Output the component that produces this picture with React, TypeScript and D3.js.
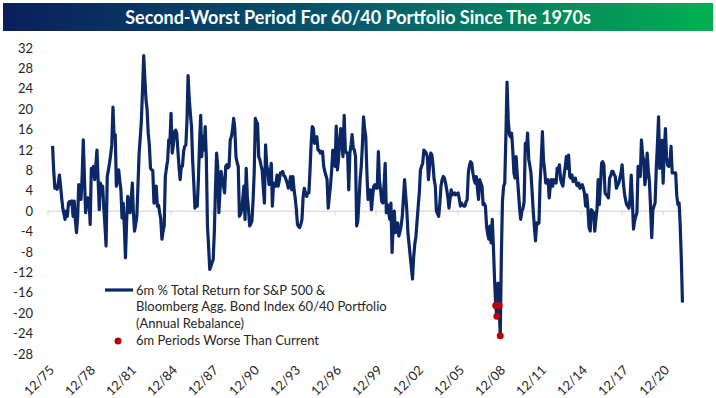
import React from 'react';
import * as d3 from 'd3';

const WIDTH = 716;
const HEIGHT = 398;

// 6m % total return, 60/40 portfolio, monthly, starting Apr 1976
const vals1970s = [
  12.8, 8, 4.5, 4.8, 4.3, 5.5, 7.1, 4.9, 2.5,
  0.5, -0.6, -1.6, 0.0, -1.0, 1.6, 1.9, 1.4, 2.0, -1.0, 2.0, -1.8,
  -4.2, -1.0, 5.2, 3.5, 2.3, 7.0, 14, 6.5, -0.3, 1.5, 2.6, 2.3,
  -2.6, 8.4, 7.8, 8.8, 6.2, 9.0, 12, 6.2, 0.3, 5.5, 4.0, 4.9,
];
const vals1980s = [
  0.5, -3, -6.8, 6.8, 8.0, 9.4, 11, 13, 20.4, 14.5, 15, 4.9,
  6.5, 8.1, 6.0, 4.2, -1.3, 1.6, -3.0, -9.1, -2.0, 2.9, 1.0, -0.3,
  2.5, 5.5, -0.3, -3.9, -2.5, -1.0, 5.0, 11.4, 14.5, 17.9, 24, 30.5,
  26, 21.8, 20, 15.3, 13, 8.4, 8.1, 8.0, 1.6, 2.5, 4.9, 1.0,
  1.2, -0.3, -1.5, -5.5, -4.0, -2.9, 6.8, 8.5, 10, 14, 13.5, 19.2,
  11.4, 13, 15.5, 15.9, 15.3, 12, 8.8, 6.2, 8.8, 8.8, 11.7, 12.7,
  13, 18, 26.6, 22, 19.2, 16.6, 10, 5.5, 0.6, 1.3, 1.0, 6,
  13.3, 18.8, 10.7, 14.6, 12, 16.6, 10.7, -2.9, -7, -11.4, -10.8, -10.1,
  -9.5, -4, 4, 11.4, 8.8, -0.3, 4, 7.8, 6.2, 5, 3.6, 8.8,
  9.1, 8.5, 8.8, 14, 14.6, 16, 18.2, 16.2, 10.7, 9.5, 8.8, -1,
];
const vals1990s = [
  -0.6, 0.3, 2.5, 4.9, -1.6, 8.4, 3, 0.3, -2.9, -2.5, -1.9, 2,
  7.5, 18.2, 17.5, 17.2, 10.7, 10.1, 9, 8.1, 4.5, 1.6, 13, 9,
  7.8, 5.2, 7, 9.4, 1.0, 5.5, 5.0, 4.9, 7.1, 4.9, 6.0, 7.5,
  7.5, 7.8, 7.0, 6.8, 6.2, 5.5, 4.5, 5.5, 6.8, 4.2, 6.8, 4.2,
  2.5, 0.3, -2.6, -3.0, -3.2, -2.5, -1.6, 2.9, 4.5, 3.6, 2.9, 3.6,
  3.6, 8.1, 13, 16.6, 16.2, 13.3, 14, 14.6, 12, 12, 11.4, 11.7,
  11.7, 8.8, 7.8, 7.0, 6.2, 0.6, 2.9, 5, 8.1, 12, 10, 8.8,
  16.7, 8.1, 10, 13.9, 16.2, 13, 10.7, 18.8, 12, 11.4, 11.4, 4.2,
  11.4, 13, 15, 12.3, 12, 10.7, -2.9, -1.9, 2, 6.2, 8.8, 13,
  18.5, 16, 14.6, 7.5, 2.3, 3.5, 4.2, 0.3, 3, 4.9, 5.2, 4.5,
];
const vals2000s = [
  4.5, 11.7, 6.0, 4.2, 1.9, 1.6, 5, 9.4, -0.3, 1.3, 0, -1.6,
  1.6, -8.1, -3, 0, -4.2, -3, -2.3, -4.9, -4, -2.9, -1, 2.5,
  6.2, 3, 0.3, -4.2, -6.5, -8.8, -11, -13.3, -9, -6.5, -4.9, -1.9,
  1.0, 3.9, 8.1, 8.8, 9.4, 12, 11.7, 11.4, 10.7, 6.2, 9, 11.4,
  11, 9, 6.2, 5, 0, -0.5, -1, 1.6, 5, 6.2, 6.8, 6.5,
  5.5, 4.2, 2.9, 0.6, 2.5, 4.2, 3.2, 3.4, 3.6, 3.2, 3.4, 3.6,
  2.5, 1.0, 1.6, 1.2, 1.0, 1.0, 1.8, 2.3, 7.5, 9.0, 9.7, 9.4,
  7.5, 6.2, 5.5, 6.8, 4.5, 2.3, 6.2, 5.5, 4.9, 1.3, 1.5, 1.0,
  -2.9, -4.5, -5.5, -2.9, -6.2, -1.6, -6.8, -13.3, -18.5, -20.6, -14.1, -18.5,
  -24.4, -8, 2.0, 4.9, 5.5, 15, 25.3, 18, 15, 14.6, 15.3, 12,
];
const vals2010s = [
  7.5, 6.5, 10.7, 7, 3.9, 0.6, -1.6, 0, 0.6, 1.9, 13.3, 12,
  15.3, 10.1, 9, 7.5, 4, 0, -3, -5.8, -2.3, -2.5, -2.3, 5.5,
  10, 15.6, 10, 8.1, 5.5, 5.8, 6.2, 2.6, 5, 6.2, 4.9, 6.2,
  6, 5.5, 8.4, 8, 9.1, 6.2, 5.5, 4.9, 7.1, 8.5, 10.7, 8.4,
  11, 6.8, 6.5, 7.1, 5.8, 6.0, 6.5, 5.2, 5.0, 5.5, 4.5, 4.8,
  5.2, 4.5, 3.5, 1.0, 3.2, 0.6, -3.2, -3.9, 0.3, 0, -0.3, -3.9,
  -1.5, 0.6, 6.2, 1.3, 5, 9.4, 9.7, 9.1, 3.6, 3.2, 3.0, 2.6,
  6.5, 7.0, 7.8, 7.8, 7.2, 6.8, 4.5, 5.0, 5.5, 6.5, 7.5, 9.1,
  5.8, 3.5, 2.3, 1.3, 1.0, 0.6, 2.3, 7.1, 2, -3.5, -1.9, -1.0,
  -0.3, 8.8, 7.5, 6.8, 14, 11, 10, 5.2, 7, 11.4, 8, 5.8,
];
const vals2020s = [
  0.6, -5.2, 0.2, 1.0, 1.6, 8.4, 13, 18.5, 8.4, 11, 13.9, 5.5,
  12, 16.2, 10.7, 9, 8.8, 9.4, 12.7, 7.5, 7.5, 7.5, 7.5, 3,
  1.3, 1.6, -2.6, -9.3, -17.9,
];

const series = [...vals1970s, ...vals1980s, ...vals1990s, ...vals2000s, ...vals2010s, ...vals2020s];
const points = series.map((v, i) => ({ date: new Date(1976, 3 + i, 1), value: v }));
const current = series[series.length - 1];
// periods worse than the latest reading
const worse = points.slice(0, -1).filter(p => p.value < current);

const yTicks = [-28, -24, -20, -16, -12, -8, -4, 0, 4, 8, 12, 16, 20, 24, 28, 32];
const xTickYears = [1975, 1978, 1981, 1984, 1987, 1990, 1993, 1996, 1999, 2002, 2005, 2008, 2011, 2014, 2017, 2020];

const title = 'Second-Worst Period For 60/40 Portfolio Since The 1970s';
const legendLine = ['6m % Total Return for S&P 500 &', 'Bloomberg Agg. Bond Index 60/40 Portfolio', '(Annual Rebalance)'];
const legendDots = '6m Periods Worse Than Current';

const FONT = 'Lato, "Open Sans", sans-serif';
const NAVY = '#0c2766';
const RED = '#c00000';

export default function App() {
  React.useEffect(() => {
    document.body.style.margin = '0';
  }, []);

  const x = d3.scaleTime()
    .domain([new Date(1975, 11, 1), new Date(2022, 5, 1)])
    .range([48, 683.6]);
  const y = d3.scaleLinear().domain([-28, 32]).range([354, 48]);

  const line = d3.line<{ date: Date; value: number }>()
    .x(d => x(d.date))
    .y(d => y(d.value));

  return (
    <svg width={WIDTH} height={HEIGHT} style={{ position: 'absolute', left: 0, top: 0, background: '#fff' }}>
      <defs>
        <linearGradient id="titleGrad" x1="0" x2="1" y1="0" y2="0">
          <stop offset="0%" stopColor="#0a1f5c" />
          <stop offset="50%" stopColor="#075a6b" />
          <stop offset="100%" stopColor="#00b050" />
        </linearGradient>
      </defs>
      <rect x={3} y={3} width={710} height={28} fill="url(#titleGrad)" />
      <text x={358} y={23.5} textAnchor="middle" fill="#fff" fontFamily={FONT} fontWeight="bold" fontSize={18}>
        {title}
      </text>

      {/* y labels */}
      {yTicks.map(t => (
        <text key={t} x={33} y={y(t) + 4.5} textAnchor="end" fontFamily={FONT} fontSize={13} fill="#262626">
          {t}
        </text>
      ))}

      {/* zero axis */}
      <line x1={48} x2={683} y1={y(0)} y2={y(0)} stroke="#d0d0d0" strokeWidth={1} />
      {xTickYears.map(yr => {
        const tx = x(new Date(yr, 11, 1));
        return <line key={yr} x1={tx} x2={tx} y1={y(0)} y2={y(0) + 4} stroke="#d0d0d0" strokeWidth={1} />;
      })}

      {/* x labels */}
      {xTickYears.map(yr => {
        const tx = x(new Date(yr, 11, 1));
        return (
          <text key={yr} transform={`translate(${tx + 7},${371}) rotate(-45)`} textAnchor="end"
            fontFamily={FONT} fontSize={13} fill="#262626">
            {`12/${String(yr).slice(2)}`}
          </text>
        );
      })}

      <path d={line(points) ?? ''} fill="none" stroke={NAVY} strokeWidth={3.2} strokeLinejoin="round" />

      {worse.map((p, i) => (
        <circle key={i} cx={x(p.date)} cy={y(p.value)} r={3.5} fill={RED} />
      ))}

      {/* legend */}
      <line x1={105} x2={133} y1={290} y2={290} stroke={NAVY} strokeWidth={3.2} />
      {legendLine.map((s, i) => (
        <text key={i} x={136} y={294.5 + i * 16.7} fontFamily={FONT} fontSize={13} fill="#262626">{s}</text>
      ))}
      <circle cx={118} cy={341} r={3.5} fill={RED} />
      <text x={136} y={294.5 + 3 * 16.7} fontFamily={FONT} fontSize={13} fill="#262626">{legendDots}</text>
    </svg>
  );
}
